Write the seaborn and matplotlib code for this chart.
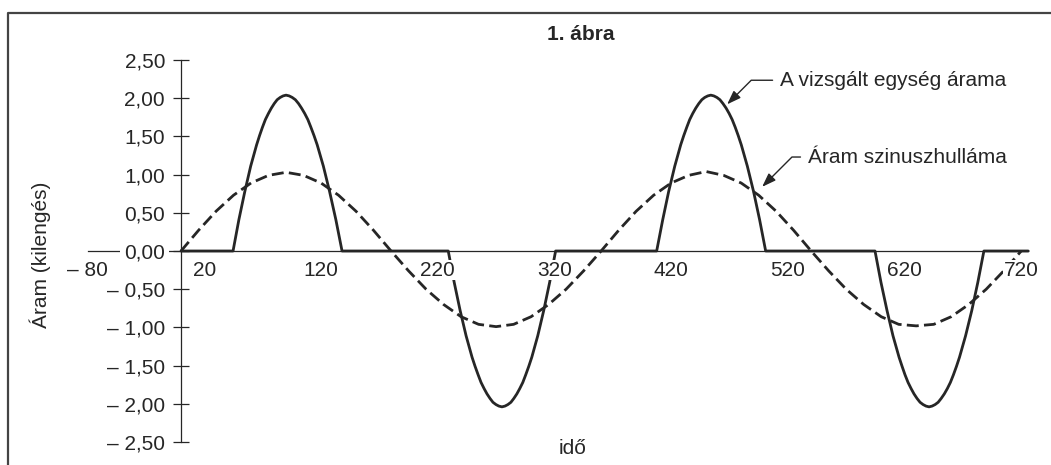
import matplotlib
matplotlib.use("Agg")
import matplotlib.pyplot as plt
from matplotlib.lines import Line2D
import seaborn as sns

# dashed reference sine wave
wave_t = [0, 15, 30, 45, 60, 75, 90, 105, 120, 135, 150, 165, 180,
          195, 210, 225, 240, 255, 270, 285, 300, 315, 330, 345, 360,
          375, 390, 405, 420, 435, 450, 465, 480, 495, 510, 525, 540,
          555, 570, 585, 600, 615, 630, 645, 660, 675, 690, 705, 720]
wave_i = [0.00, 0.27, 0.52, 0.73, 0.89, 0.99, 1.03, 0.99, 0.89, 0.73, 0.52, 0.27, 0.00,
          -0.26, -0.50, -0.70, -0.86, -0.96, -0.99, -0.96, -0.86, -0.70, -0.50, -0.26, 0.00,
          0.27, 0.52, 0.73, 0.89, 0.99, 1.04, 0.99, 0.89, 0.73, 0.52, 0.27, 0.00,
          -0.26, -0.50, -0.70, -0.86, -0.96, -0.98, -0.96, -0.86, -0.70, -0.50, -0.26, 0.00]

# current of the tested unit (solid)
solid_t = [0,
           44.6, 49.6, 54.7, 59.7, 64.8, 67.3, 69.8, 72.3, 74.9, 77.4, 79.9, 82.4, 85.0, 87.5, 90.0,
           92.7, 95.3, 98.0, 100.7, 103.3, 106.0, 108.7, 111.3, 114.0, 116.7, 122.0, 127.3, 132.7, 138.0,
           229.0, 234.1, 239.2, 244.3, 249.4, 252.0, 254.6, 257.1, 259.7, 262.2, 264.8, 267.3, 269.9, 272.4, 275.0,
           277.6, 280.1, 282.7, 285.2, 287.8, 290.3, 292.9, 295.4, 298.0, 300.6, 305.7, 310.8, 315.9, 321.0,
           407.6, 412.8, 417.9, 423.1, 428.2, 430.8, 433.4, 435.9, 438.5, 441.1, 443.7, 446.3, 448.8, 451.4, 454.0,
           456.6, 459.2, 461.8, 464.4, 467.1, 469.7, 472.3, 474.9, 477.5, 480.1, 485.3, 490.6, 495.8, 501.0,
           594.7, 599.8, 605.0, 610.1, 615.3, 617.9, 620.4, 623.0, 625.6, 628.1, 630.7, 633.3, 635.9, 638.4, 641.0,
           643.6, 646.2, 648.8, 651.4, 654.1, 656.7, 659.3, 661.9, 664.5, 667.1, 672.3, 677.6, 682.8, 688.0,
           726]
solid_i = [0,
           0, 0.41, 0.78, 1.11, 1.39, 1.51, 1.62, 1.72, 1.80, 1.87, 1.93, 1.98, 2.01, 2.03, 2.04,
           2.03, 2.01, 1.98, 1.93, 1.87, 1.80, 1.72, 1.62, 1.51, 1.39, 1.11, 0.78, 0.41, 0,
           0, -0.41, -0.78, -1.11, -1.39, -1.51, -1.62, -1.72, -1.80, -1.87, -1.93, -1.98, -2.01, -2.03, -2.04,
           -2.03, -2.01, -1.98, -1.93, -1.87, -1.80, -1.72, -1.62, -1.51, -1.39, -1.11, -0.78, -0.41, 0,
           0, 0.41, 0.78, 1.11, 1.39, 1.51, 1.62, 1.72, 1.80, 1.87, 1.93, 1.98, 2.01, 2.03, 2.04,
           2.03, 2.01, 1.98, 1.93, 1.87, 1.80, 1.72, 1.62, 1.51, 1.39, 1.11, 0.78, 0.41, 0,
           0, -0.41, -0.78, -1.11, -1.39, -1.51, -1.62, -1.72, -1.80, -1.87, -1.93, -1.98, -2.01, -2.03, -2.04,
           -2.03, -2.01, -1.98, -1.93, -1.87, -1.80, -1.72, -1.62, -1.51, -1.39, -1.11, -0.78, -0.41, 0,
           0]

x_ticks = [-80, 20, 120, 220, 320, 420, 520, 620, 720]
x_labels = ["\u2013 80", "20", "120", "220", "320", "420", "520", "620", "720"]
y_ticks = [2.5, 2.0, 1.5, 1.0, 0.5, 0.0, -0.5, -1.0, -1.5, -2.0, -2.5]
y_labels = ["2,50", "2,00", "1,50", "1,00", "0,50", "0,00",
            "\u2013 0,50", "\u2013 1,00", "\u2013 1,50", "\u2013 2,00", "\u2013 2,50"]

sns.set_style("white")
plt.rcParams["font.family"] = ["Liberation Sans", "DejaVu Sans"]
ink = "#262626"
W, H = 1051, 465

fig = plt.figure(figsize=(W / 100, H / 100), dpi=100)
ax = fig.add_axes([0, 0, 1, 1])
ax.patch.set_alpha(0)
ax.set_axisbelow(False)  # tick labels sit above the curves and axis lines

sns.lineplot(x=wave_t, y=wave_i, ax=ax, color=ink, lw=2.0,
             linestyle=(0, (4.3, 1.9)), estimator=None, sort=False)
sns.lineplot(x=solid_t, y=solid_i, ax=ax, color=ink, lw=2.0,
             estimator=None, sort=False)

# map data to the pixel layout of the original
ax.set_xlim((0 - 181) / 1.167, (W - 181) / 1.167)
ax.set_ylim((251 - H) / 76.4, 251 / 76.4)

for s in ["top", "right"]:
    ax.spines[s].set_visible(False)
ax.spines["left"].set_position(("data", 0))
ax.spines["bottom"].set_position(("data", 0))
ax.spines["left"].set_bounds(-2.5, 2.5)
ax.spines["bottom"].set_bounds(-80, 726)
for s in ["left", "bottom"]:
    ax.spines[s].set_color(ink)
    ax.spines[s].set_linewidth(0.9)
    ax.spines[s].set_zorder(1.5)

ax.set_xticks(x_ticks, x_labels)
ax.set_yticks(y_ticks, y_labels)
ax.tick_params(axis="y", left=True, direction="inout", length=11, width=0.9, pad=6,
               labelsize=15, colors=ink)
ax.tick_params(axis="x", bottom=True, length=0, pad=7, labelsize=15, colors=ink)
for lab in ax.get_xticklabels():
    lab.set_bbox(dict(facecolor="white", edgecolor="none", pad=0.5))
ax.get_yticklabels()[5].set_bbox(dict(facecolor="white", edgecolor="none", pad=3))

arrow = dict(arrowstyle="-|>,head_length=0.7,head_width=0.25", color=ink, lw=1.0,
             shrinkA=3, shrinkB=0, mutation_scale=12)
ax.annotate("A vizsgált egység árama", xy=(468, 1.92), xytext=(513.3, 2.235),
            ha="left", va="center", fontsize=15, color=ink,
            arrowprops=dict(arrow, connectionstyle="angle,angleA=0,angleB=45,rad=0"))
ax.annotate("Áram szinuszhulláma", xy=(498, 0.84), xytext=(537.2, 1.23),
            ha="left", va="center", fontsize=15, color=ink,
            arrowprops=dict(arrow, connectionstyle="angle,angleA=0,angleB=45,rad=0"))

fig.text(581 / W, 1 - 35 / H, "1. ábra", ha="center", va="center",
         fontsize=15, fontweight="bold", color=ink)
fig.text(40 / W, 1 - 255 / H, "Áram (kilengés)", rotation=90, ha="center",
         va="center", fontsize=15, color=ink)
fig.text(573 / W, 1 - 448 / H, "idő", ha="center", va="center",
         fontsize=15, color=ink)

# open frame around the figure (left and top edges)
fig.add_artist(Line2D([8 / W, 8 / W, 1], [0, 1 - 13 / H, 1 - 13 / H],
                      transform=fig.transFigure, color="#444444", lw=1.6))

fig.savefig("out.png", dpi=100)
